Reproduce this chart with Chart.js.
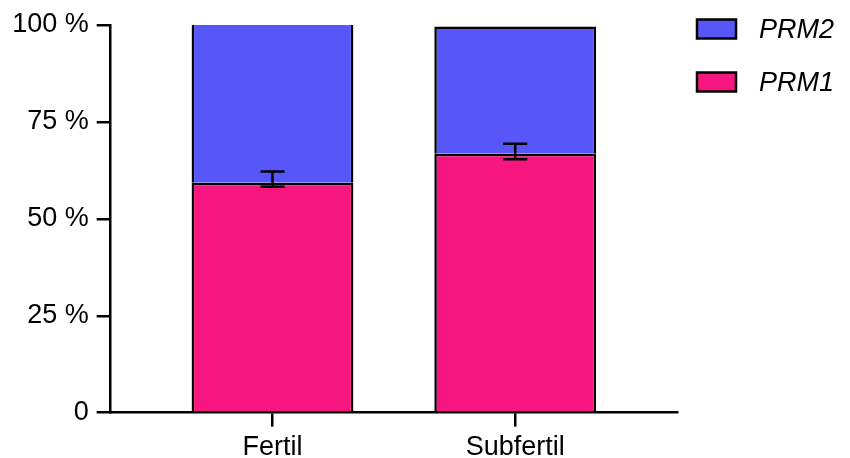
<!DOCTYPE html>
<html>
<head>
<meta charset="utf-8">
<script src="https://cdn.jsdelivr.net/npm/chart.js@4.4.1/dist/chart.umd.min.js"></script>
<style>
  html, body { margin: 0; padding: 0; background: #ffffff; }
  #wrap { width: 850px; height: 458px; }
</style>
</head>
<body>
<div id="wrap"><canvas id="c" width="850" height="458"></canvas></div>
<script>
// Groups along the x axis
const categories = ['Fertil', 'Subfertil'];
// Share of each transcript (%)
const prm1 = [59.3, 66.8];
const prm2 = [40.7, 32.8];
// Error bar ends for PRM1 (%)
const prm1ErrLow = [58.3, 65.4];
const prm1ErrHigh = [62.2, 69.4];
// Y axis tick labels
const yTicks = [0, 25, 50, 75, 100];
const yTickLabels = ['0', '25 %', '50 %', '75 %', '100 %'];

const FONT = "'Liberation Sans', Arial, sans-serif";
const PINK = '#F7167F';
const BLUE = '#5757F9';
const BORDER = 2.5;

// Draws the PRM1 error bars on top of the stacked bars
const errorBars = {
  id: 'errorBars',
  afterDatasetsDraw(chart) {
    const ctx = chart.ctx;
    const xs = chart.scales.x, ys = chart.scales.y;
    ctx.save();
    ctx.strokeStyle = '#000';
    categories.forEach((c, i) => {
      const x = xs.getPixelForValue(i + 1);
      const yHi = ys.getPixelForValue(prm1ErrHigh[i]);
      const yLo = ys.getPixelForValue(prm1ErrLow[i]);
      ctx.lineWidth = 2.5;
      ctx.beginPath();
      ctx.moveTo(x, yHi); ctx.lineTo(x, yLo);
      ctx.stroke();
      ctx.beginPath();
      ctx.moveTo(x - 12, yHi); ctx.lineTo(x + 12, yHi);
      ctx.moveTo(x - 12, yLo); ctx.lineTo(x + 12, yLo);
      ctx.stroke();
    });
    ctx.restore();
  }
};

// Legend on the right, top series first
const sideLegend = {
  id: 'sideLegend',
  afterDraw(chart) {
    const ctx = chart.ctx;
    const items = chart.data.datasets.slice().reverse();
    ctx.save();
    items.forEach((ds, k) => {
      const top = 19.5 + k * 53;
      ctx.fillStyle = ds.backgroundColor;
      ctx.fillRect(697, top, 39, 19);
      ctx.lineWidth = 2.5;
      ctx.strokeStyle = '#000';
      ctx.strokeRect(697, top, 39, 19);
      ctx.fillStyle = '#000';
      ctx.font = 'italic 27px ' + FONT;
      ctx.textBaseline = 'middle';
      ctx.textAlign = 'left';
      ctx.fillText(ds.label, 759, top + 11);
    });
    ctx.restore();
  }
};

// The top edge of a bar that reaches the plot's ceiling is cut off by the plot area
function barBorder(ctx) {
  const i = ctx.dataIndex;
  const total = prm1[i] + prm2[i];
  const isTop = ctx.datasetIndex === 1;
  return { left: BORDER, right: BORDER, bottom: BORDER, top: (isTop && total >= 100) ? 0 : BORDER };
}

new Chart(document.getElementById('c'), {
  type: 'bar',
  data: {
    datasets: [
      {
        label: 'PRM1',
        data: prm1.map((v, i) => ({ x: i + 1, y: v })),
        backgroundColor: PINK,
        borderColor: '#000',
        borderWidth: barBorder,
        borderSkipped: 'start'
      },
      {
        label: 'PRM2',
        data: prm2.map((v, i) => ({ x: i + 1, y: v })),
        backgroundColor: BLUE,
        borderColor: '#000',
        borderWidth: barBorder,
        borderSkipped: 'start'
      }
    ]
  },
  options: {
    responsive: false,
    animation: false,
    events: [],
    layout: { padding: { left: 0, right: 173, top: 25, bottom: 0 } },
    datasets: { bar: { categoryPercentage: 1, barPercentage: 2 / 3 } },
    plugins: { legend: { display: false }, tooltip: { enabled: false } },
    scales: {
      x: {
        type: 'linear',
        stacked: true,
        min: 1 / 3,
        max: 8 / 3,
        offset: false,
        afterBuildTicks(scale) {
          scale.ticks = categories.map((c, i) => ({ value: i + 1 }));
        },
        afterFit(scale) { scale.height = 45.3; },
        border: { display: true, color: '#000', width: 2.5 },
        grid: { display: true, offset: false, drawOnChartArea: false, drawTicks: true, tickLength: 14, color: '#000', lineWidth: 2.5 },
        ticks: {
          color: '#000',
          font: { family: FONT, size: 27 },
          padding: 5,
          maxRotation: 0,
          autoSkip: false,
          callback: (v) => categories[Math.round(v) - 1]
        }
      },
      y: {
        stacked: true,
        min: 0,
        max: 100,
        afterBuildTicks(scale) {
          scale.ticks = yTicks.map(v => ({ value: v }));
        },
        afterFit(scale) { scale.width = 110.7; },
        border: { display: true, color: '#000', width: 2.5 },
        grid: { display: true, drawOnChartArea: false, drawTicks: true, tickLength: 14, color: '#000', lineWidth: 2.5 },
        ticks: {
          color: '#000',
          font: { family: FONT, size: 27 },
          padding: 8,
          callback: (v) => yTickLabels[yTicks.indexOf(v)]
        }
      }
    }
  },
  plugins: [errorBars, sideLegend]
});
</script>
</body>
</html>
